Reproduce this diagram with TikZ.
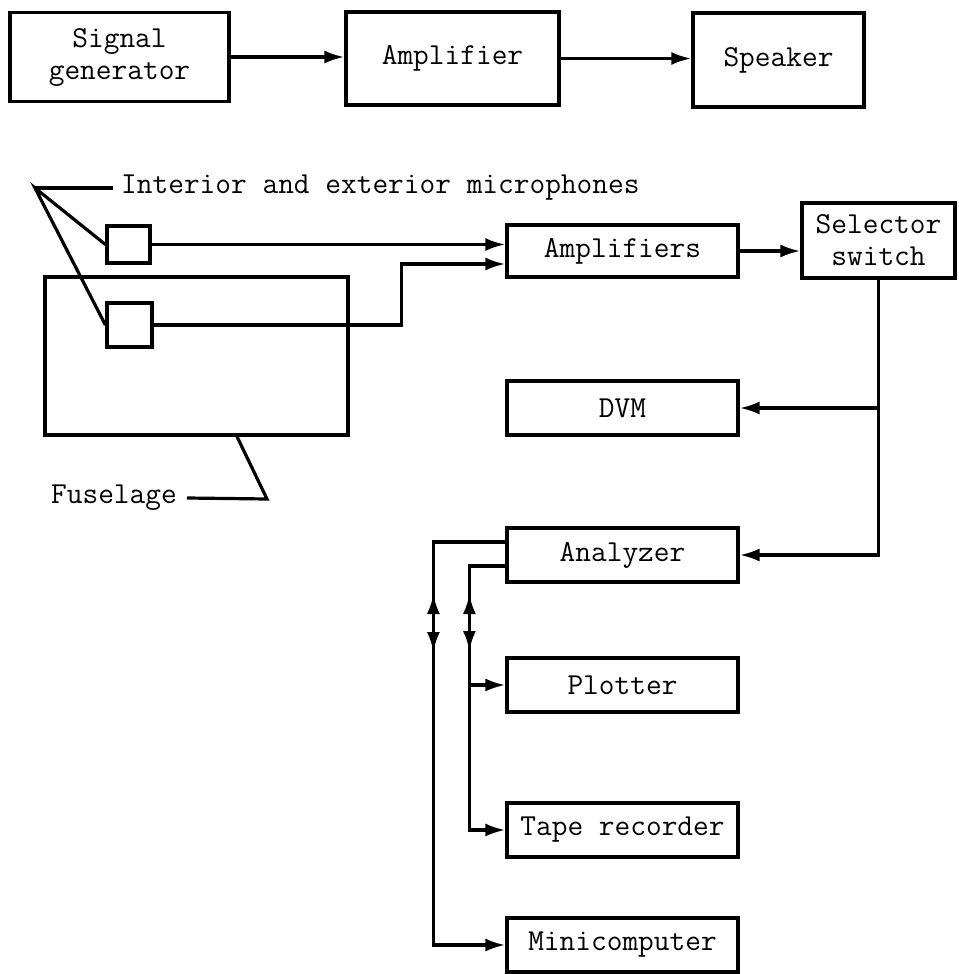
\documentclass[tikz,border=0pt]{standalone}
\usepackage{fontspec}
\usetikzlibrary{arrows.meta,decorations.markings}
\newcommand\diagfont{\fontsize{30.5}{32}\selectfont\ttfamily}
\begin{document}
\begin{tikzpicture}[x=1pt,y=-1pt,
  lw/.style={line width=3.2pt},
  blk/.style={draw,lw,inner sep=0pt,font=\diagfont,align=center},
  tipa/.style={-{Latex[length=20pt,width=13pt]}},
  con/.style={lw,tipa},
  plain/.style={lw},
  lbl/.style={font=\diagfont,inner sep=0pt},
  dblmark/.style 2 args={postaction={decorate},decoration={markings,
     mark=at position #1 with {\arrowreversed{Latex[length=20pt,width=13pt]}},
     mark=at position #2 with {\arrow{Latex[length=20pt,width=13pt]}}}},
]
\useasboundingbox[fill=white] (0,0) rectangle (958,974);

% top row
\node[blk,minimum width=219pt,minimum height=89pt] (sg) at (119.5,57) {Signal\\generator};
\node[blk,minimum width=213pt,minimum height=93pt] (amp) at (452.5,58.5) {Amplifier};
\node[blk,minimum width=171pt,minimum height=94pt] (spk) at (778.5,60) {Speaker};
\draw[con] (sg.east) -- (sg.east -| amp.west);
\draw[con] (amp.east) -- (amp.east -| spk.west);

% fuselage and microphones
\node[draw,lw,minimum width=303pt,minimum height=158pt,inner sep=0pt] (fus) at (196.5,356) {};
\node[draw,lw,minimum width=43pt,minimum height=37pt,inner sep=0pt] (mic1) at (128.5,244.5) {};
\node[draw,lw,minimum width=45pt,minimum height=44pt,inner sep=0pt] (mic2) at (129.5,325) {};
\coordinate (mv) at (35,188);
\node[lbl,anchor=west,inner xsep=8pt] (miclbl) at (113,188) {Interior and exterior microphones};
\draw[plain] (mv) -- (miclbl.west);
\draw[plain] (mic1.west) -- (mv) -- (mic2.west);
\node[lbl,anchor=east,inner xsep=10pt] (fuslbl) at (187,498) {Fuselage};
\coordinate (fk) at (267,499);
\draw[plain] ([xshift=40.5pt]fus.south) -- (fk) -- (fuslbl.east);

% right column
\node[blk,minimum width=231pt,minimum height=52pt] (amps) at (622.5,251) {Amplifiers};
\node[blk,minimum width=153pt,minimum height=75pt] (sel) at (878.5,240.5) {Selector\\switch};
\node[blk,minimum width=231pt,minimum height=54pt] (dvm) at (622.5,408) {DVM};
\node[blk,minimum width=231pt,minimum height=54pt] (ana) at (622.5,555) {Analyzer};
\node[blk,minimum width=231pt,minimum height=54pt] (plot) at (622.5,685) {Plotter};
\node[blk,minimum width=231pt,minimum height=54pt] (tape) at (622.5,830) {Tape recorder};
\node[blk,minimum width=231pt,minimum height=54pt] (mini) at (622.5,945) {Minicomputer};

\draw[con] (mic1.east) -- (mic1.east -| amps.west);
\draw[con] (mic2.east) -- ++(248,0) |- ([yshift=-13pt]amps.west);
\draw[con] (amps.east) -- (amps.east -| sel.west);
\draw[con] (sel.south) |- (ana.east);
\draw[con] (sel.south |- dvm.east) -- (dvm.east);

% analyzer outputs
\coordinate (ob) at ([xshift=-72pt,yshift=13pt]ana.west);
\coordinate (ib) at ([xshift=-36pt,yshift=-11pt]ana.west);
\draw[con,dblmark={124pt}{182pt}] ([yshift=13pt]ana.west) -- (ob) |- (mini.west);
\draw[con,dblmark={64pt}{121pt}] ([yshift=-11pt]ana.west) -- (ib) |- (tape.west);
\draw[con] (ib |- plot.west) -- (plot.west);
\end{tikzpicture}
\end{document}
